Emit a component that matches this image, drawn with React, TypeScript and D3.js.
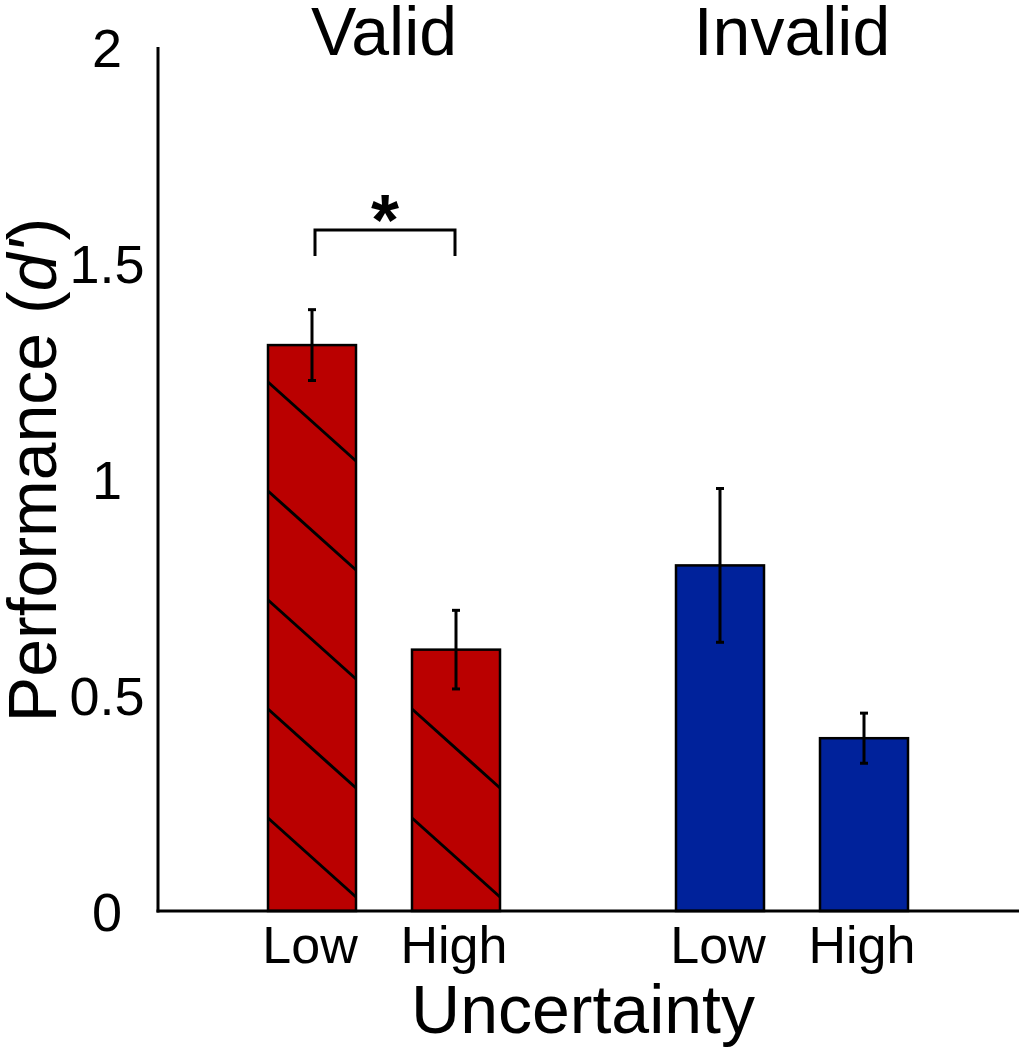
import React from "react";
import * as d3 from "d3";

const groups = ["Valid", "Invalid"];
const conditions = ["Low", "High"];
const means = [
  [1.31, 0.605],
  [0.8, 0.4],
];
const errors = [
  [0.082, 0.091],
  [0.178, 0.058],
];
const yTicks = [0, 0.5, 1, 1.5, 2];
const yTickLabels = ["0", "0.5", "1", "1.5", "2"];
const groupColors = ["#BA0000", "#00229B"];
const hatched = [true, false];

const W = 1019;
const H = 1050;

export default function App() {
  const y = d3.scaleLinear().domain([0, 2]).range([911, 47]);
  const x0 = d3.scaleBand<string>().domain(groups).range([180, 996]).padding(0);
  const x1 = d3.scalePoint<string>().domain(conditions).range([132, 276]);
  const barW = 88;
  const font = "'Liberation Sans', Arial, sans-serif";

  const bars: any[] = [];
  groups.forEach((g, gi) => {
    conditions.forEach((c, ci) => {
      const cx = (x0(g) as number) + (x1(c) as number);
      bars.push({ g, gi, c, ci, cx, v: means[gi][ci], e: errors[gi][ci] });
    });
  });

  const hatchSpacing = 109;
  const hatchFirst = 93;
  const hatchDy = 79;

  return (
    <svg width={W} height={H} style={{ position: "absolute", left: 0, top: 0, background: "#fff" }}>
      {/* bars */}
      {bars.map((b, i) => {
        const left = b.cx - barW / 2;
        const top = y(b.v);
        const base = y(0);
        const lines: React.ReactNode[] = [];
        if (hatched[b.gi]) {
          for (let k = 0; ; k++) {
            const ly = base - hatchFirst - k * hatchSpacing;
            if (ly < top + 10) break;
            lines.push(
              <line key={k} x1={left} y1={ly} x2={left + barW} y2={ly + hatchDy} stroke="#000" strokeWidth={3} />
            );
          }
        }
        return (
          <g key={i}>
            <rect x={left} y={top} width={barW} height={base - top} fill={groupColors[b.gi]} stroke="#000" strokeWidth={2.5} />
            {lines}
            <line x1={b.cx} x2={b.cx} y1={y(b.v + b.e)} y2={y(b.v - b.e)} stroke="#000" strokeWidth={3} />
            <line x1={b.cx - 4} x2={b.cx + 4} y1={y(b.v + b.e)} y2={y(b.v + b.e)} stroke="#000" strokeWidth={3} />
            <line x1={b.cx - 4} x2={b.cx + 4} y1={y(b.v - b.e)} y2={y(b.v - b.e)} stroke="#000" strokeWidth={3} />
          </g>
        );
      })}

      {/* axes */}
      <line x1={158} x2={158} y1={y(2)} y2={y(0) + 1.5} stroke="#000" strokeWidth={3} />
      <line x1={156.5} x2={W} y1={y(0)} y2={y(0)} stroke="#000" strokeWidth={3} />

      {yTicks.map((t, i) => (
        <text key={t} x={107} y={y(t) + 20} textAnchor="middle" fontFamily={font} fontSize={54} fill="#000">
          {yTickLabels[i]}
        </text>
      ))}

      {bars.map((b, i) => (
        <text key={"xl" + i} x={b.cx - 2} y={963} textAnchor="middle" fontFamily={font} fontSize={52} fill="#000">
          {b.c}
        </text>
      ))}

      {groups.map((g) => (
        <text key={g} x={(x0(g) as number) + x0.bandwidth() / 2} y={55} textAnchor="middle" fontFamily={font} fontSize={68} fill="#000">
          {g}
        </text>
      ))}

      <text x={583} y={1033} textAnchor="middle" fontFamily={font} fontSize={68} fill="#000">
        Uncertainty
      </text>

      <text transform={`translate(56, 470) rotate(-90)`} textAnchor="middle" fontFamily={font} fontSize={68} fill="#000">
        Performance (<tspan fontStyle="italic">d'</tspan>)
      </text>

      {/* significance bracket */}
      {(() => {
        const xa = bars[0].cx + 3;
        const xb = bars[1].cx - 1;
        return (
          <g>
            <path d={`M${xa},256 V230 H${xb} V256`} fill="none" stroke="#000" strokeWidth={3} />
            <text x={(xa + xb) / 2} y={245} textAnchor="middle" fontFamily={font} fontSize={72} fontWeight="bold" fill="#000">
              *
            </text>
          </g>
        );
      })()}
    </svg>
  );
}
